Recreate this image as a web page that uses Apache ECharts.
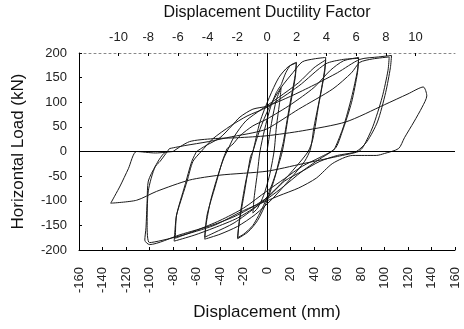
<!DOCTYPE html>
<html>
<head>
<meta charset="utf-8">
<script src="https://cdn.jsdelivr.net/npm/echarts@6/dist/echarts.min.js"></script>
<style>
html,body{margin:0;padding:0;background:#fff;}
#chart{width:464px;height:329px;}
</style>
</head>
<body>
<div id="chart"></div>
<script>
// Displacement (mm) tick labels and ductility tick labels
var dispTicks = [-160,-140,-120,-100,-80,-60,-40,-20,0,20,40,60,80,100,120,140,160];
var ductilityTicks = [-10,-8,-6,-4,-2,0,2,4,6,8,10];
var loadTicks = [-200,-150,-100,-50,0,50,100,150,200];

// Hysteresis cycles: [displacement (mm), horizontal load (kN)]
var cycle1 = [[0,0],[4,60],[8,105],[12,130],[11,105],[8,50],[6,0],[2,-50],[-3,-90],[-8,-115],[-12,-125],[-11,-95],[-8,-40],[-6,0],[-2,45],[3,90],[8,120],[12,135]];
var cycle2 = [[12,135],[16,160],[20,175],[25,181],[24,155],[19,90],[14,20],[12,0],[7,-50],[0,-100],[-8,-140],[-16,-163],[-25,-177],[-24,-150],[-19,-80],[-14,-10],[-12,0],[-6,60],[2,110],[10,150],[18,172],[25,180],[24,150],[18,70],[13,0],[6,-55],[-3,-110],[-12,-150],[-20,-168],[-25,-175],[-23,-130],[-18,-60],[-12,0]];
var cycle3 = [[-12,0],[-6,45],[2,90],[12,130],[22,160],[30,182],[40,188],[50,191],[49,165],[45,110],[40,50],[37,5],[32,-20],[20,-55],[5,-95],[-10,-128],[-25,-152],[-40,-168],[-53,-178],[-52,-150],[-48,-100],[-42,-50],[-37,-15],[-34,0],[-28,30],[-18,62],[-5,85],[10,110],[27,140],[40,170],[50,186],[49,160],[44,95],[39,25],[35,0],[25,-30],[10,-70],[-8,-110],[-28,-145],[-45,-165],[-53,-174],[-51,-129],[-44,-70],[-38,-20],[-34,6]];
var cycle4 = [[-34,6],[-29,15],[-23,32],[-12,52],[0,66],[20,95],[40,130],[54,165],[65,184],[78,191],[77,165],[72,110],[65,50],[58,8],[55,0],[45,-15],[30,-40],[12,-75],[-5,-105],[-25,-135],[-45,-155],[-62,-170],[-79,-182],[-78,-150],[-77,-129],[-72,-90],[-68,-60],[-63,-20],[-56,0],[-46,26],[-31,52],[-17,72],[0,90],[27,133],[50,178],[65,187],[78,189],[77,160],[72,100],[64,40],[58,6],[45,-12],[30,-30],[15,-55],[0,-80],[-20,-115],[-40,-140],[-60,-160],[-78,-176],[-77,-130],[-70,-70],[-64,-20],[-60,0]];
var cycle5 = [[-60,0],[-52,12],[-40,28],[-30,52],[-23,70],[-12,86],[0,92],[20,112],[40,135],[60,160],[79,187],[95,192],[106,195],[105,170],[101,120],[94,60],[85,20],[76,0],[60,-8],[45,-20],[30,-40],[15,-60],[0,-94],[-25,-129],[-46,-149],[-74,-169],[-100,-189],[-104,-180],[-103,-155],[-102,-100],[-101,-60],[-95,-30],[-91,-20],[-83,6]];
var cycle6 = [[-83,6],[-70,12],[-50,20],[-30,30],[-12,38],[0,46],[27,86],[56,127],[72,160],[79,181],[90,188],[104,192],[103,165],[98,110],[90,50],[82,10],[78,0],[60,-10],[30,-25],[0,-40],[-40,-48],[-66,-58],[-94,-81],[-111,-99],[-133,-105],[-125,-70],[-118,-35],[-111,0],[-95,-3],[-80,0]];
var cycle7 = [[-80,0],[-66,20],[-46,26],[-25,28],[0,32],[30,42],[67,60],[100,95],[120,117],[133,131],[136,113],[132,90],[125,60],[117,28],[112,6],[100,-4],[93,-8],[73,-8],[56,-24],[42,-54],[27,-74],[10,-90],[0,-100],[-20,-120],[-45,-150],[-75,-172],[-100,-185],[-102,-150],[-101,-80],[-95,-30],[-85,0],[-77,0]];

var cycles = [cycle1, cycle2, cycle3, cycle4, cycle5, cycle6, cycle7];

var FONT = 'Liberation Sans, Arial, sans-serif';
var chart = echarts.init(document.getElementById('chart'), null, {renderer:'canvas'});

var series = cycles.map(function(c, i){
  var s = {
    type:'line', data:c, xAxisIndex:0, yAxisIndex:0,
    showSymbol:false, symbol:'none', smooth:0.25,
    lineStyle:{color:'#1a1a1a', width:1},
    silent:true, animation:false
  };
  if(i===0){
    s.markLine = {
      silent:true, symbol:['none','none'], animation:false,
      label:{show:false},
      lineStyle:{color:'#000', width:1, type:'solid'},
      data:[{xAxis:0},{yAxis:0}]
    };
  }
  return s;
});

chart.setOption({
  animation:false,
  backgroundColor:'#fff',
  grid:{left:79, right:9, top:51, bottom:79, containLabel:false},
  xAxis:[{
    type:'value', position:'bottom', min:-160, max:160, interval:20,
    name:'Displacement (mm)', nameLocation:'middle', nameGap:54,
    nameTextStyle:{fontFamily:FONT, fontSize:17, color:'#111'},
    axisLine:{show:true, onZero:false, lineStyle:{color:'#000', width:1}},
    axisTick:{show:true, inside:true, length:3, lineStyle:{color:'#000'}},
    axisLabel:{rotate:90, margin:17, fontFamily:FONT, fontSize:13, color:'#222'},
    splitLine:{show:false}
  },{
    type:'value', position:'top', min:-12.66, max:12.66,
    name:'Displacement Ductility Factor', nameLocation:'middle', nameGap:32,
    nameTextStyle:{fontFamily:FONT, fontSize:16, color:'#111'},
    axisLine:{show:true, onZero:false, lineStyle:{color:'#888', width:1, type:[2,3]}},
    axisTick:{show:true, inside:true, length:3, customValues:ductilityTicks, lineStyle:{color:'#000'}},
    axisLabel:{show:true, margin:9, customValues:ductilityTicks, fontFamily:FONT, fontSize:13, color:'#222'},
    splitLine:{show:false}
  }],
  yAxis:[{
    type:'value', min:-200, max:200, interval:50,
    name:'Horizontal Load (kN)', nameLocation:'middle', nameGap:52, nameRotate:90,
    nameTextStyle:{fontFamily:FONT, fontSize:17, color:'#111'},
    axisLine:{show:true, onZero:false, lineStyle:{color:'#000', width:1}},
    axisTick:{show:true, inside:true, length:3, lineStyle:{color:'#000'}},
    axisLabel:{margin:12, fontFamily:FONT, fontSize:13, color:'#222'},
    splitLine:{show:false}
  }],
  series:series
});
</script>
</body>
</html>
